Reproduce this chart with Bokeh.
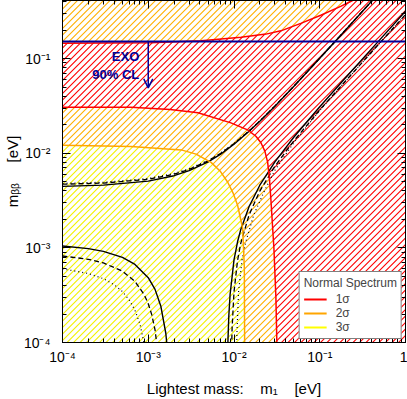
import base64
from bokeh.plotting import figure
from bokeh.models import (LogAxis, LogTicker, CustomJSTickFormatter, Range1d, Legend,
                          LegendItem, Arrow, OpenHead, Label, ColumnDataSource, ImageURLTexture)
from bokeh.embed import file_html
from bokeh.resources import INLINE

# ---------------- axis limits ----------------
X_MIN, X_MAX = 1e-4, 1.0
Y_MIN, Y_MAX = 1e-4, 0.41

# ---------------- EXO limit ----------------
EXO_LIMIT = 0.151
EXO_ARROW_X = 1e-3
EXO_ARROW_END = 0.049

# ---------------- best-fit m_bb envelopes ----------------
MAX_X = [1e-4, 3e-4, 1e-3, 2e-3, 3e-3, 5e-3, 7e-3, 0.01, 0.015, 0.02, 0.03, 0.05, 0.1, 0.2, 0.5, 1.0]
SOLID_MAX_Y = [0.00446, 0.00460, 0.00507, 0.00578, 0.00653, 0.00811, 0.00978, 0.01242, 0.01701,
               0.02173, 0.03138, 0.05099, 0.1006, 0.2005, 0.5006, 1.0003]
DASHED_MAX_Y = [0.00470, 0.00483, 0.00530, 0.00600, 0.00673, 0.00829, 0.00995, 0.01257, 0.01714,
                0.02184, 0.03145, 0.05101, 0.1006, 0.2005, 0.5006, 1.0003]
DOTTED_MAX_Y = [0.00480, 0.00493, 0.00540, 0.00611, 0.00684, 0.00840, 0.01006, 0.01268, 0.01724,
                0.02194, 0.03153, 0.05107, 0.1007, 0.2005, 0.5006, 1.0003]

SOLID_MINL_X = [1e-4, 2e-4, 3e-4, 5e-4, 7e-4, 1e-3, 1.2e-3, 1.4e-3, 1.6e-3, 1.65e-3, 1.7e-3, 1.8e-3]
SOLID_MINL_Y = [0.001046, 0.000982, 0.000918, 0.000793, 0.000668, 0.000484, 0.000364, 0.000243,
                0.000126, 0.000096, 0.000067, 0.0000089]
DASHED_MINL_X = [1e-4, 2e-4, 3e-4, 5e-4, 7e-4, 9e-4, 1e-3, 1.1e-3, 1.2e-3, 1.3e-3, 1.4e-3]
DASHED_MINL_Y = [0.00082, 0.000757, 0.000693, 0.000567, 0.000442, 0.000319, 0.000257, 0.000196,
                 0.000136, 0.000076, 0.000016]
DOTTED_MINL_X = [1e-4, 2e-4, 3e-4, 4e-4, 5e-4, 6e-4, 7e-4, 8e-4, 9e-4, 1e-3]
DOTTED_MINL_Y = [0.00060, 0.000536, 0.000472, 0.000408, 0.000345, 0.000282, 0.000219, 0.000157,
                 0.000095, 0.000033]

SOLID_MINR_X = [0.0083, 0.0085, 0.0087, 0.009, 0.01, 0.011, 0.012, 0.015, 0.02, 0.03, 0.05, 0.1, 0.2, 0.5, 1.0]
SOLID_MINR_Y = [0.000014, 0.000104, 0.000191, 0.00032, 0.000745, 0.001159, 0.001563, 0.002734,
                0.004587, 0.008105, 0.014815, 0.030983, 0.062732, 0.157395, 0.314946]
DASHED_MINR_X = [0.0093, 0.0095, 0.01, 0.011, 0.012, 0.015, 0.02, 0.03, 0.05, 0.1, 0.2, 0.5, 1.0]
DASHED_MINR_Y = [0.00006, 0.000141, 0.000342, 0.000736, 0.001121, 0.00223, 0.003981, 0.007282,
                 0.013541, 0.028543, 0.057915, 0.145393, 0.290962]
DOTTED_MINR_X = [0.0106, 0.0108, 0.0113, 0.0124, 0.0136, 0.017, 0.0226, 0.03, 0.05, 0.1, 0.2, 0.5, 1.0]
DOTTED_MINR_Y = [0.00003, 0.00012, 0.00034, 0.00074, 0.00112, 0.00223, 0.00398, 0.0066, 0.0130,
                 0.0282, 0.0577, 0.1451, 0.2906]

# ---------------- confidence contours ----------------
L1_X = [1e-4, 6.3e-4, 0.0018, 0.0038, 0.0092, 0.0144, 0.0180, 0.0206, 0.0229, 0.0247, 0.0259,
        0.0269, 0.0292, 0.0308, 0.0316, 0.0318]
L1_Y = [0.0306, 0.0305, 0.0289, 0.0267, 0.0209, 0.0176, 0.0151, 0.0129, 0.0105, 0.0080, 0.00535,
        0.0033, 0.00099, 0.0003, 0.0001, 0.00005]
U1_X = [1e-4, 0.00108, 0.00413, 0.01205, 0.0236, 0.0352, 0.0601, 0.1028, 0.1754, 0.229, 0.343]
U1_Y = [0.145, 0.147, 0.154, 0.168, 0.181, 0.196, 0.235, 0.286, 0.355, 0.40, 0.485]
L2_X = [1e-4, 6.3e-4, 0.00242, 0.00361, 0.0054, 0.00687, 0.00845, 0.00973, 0.01103, 0.01262,
        0.0132, 0.0133, 0.01335]
L2_Y = [0.0121, 0.01175, 0.01083, 0.00977, 0.0080, 0.00649, 0.00493, 0.00381, 0.0028, 0.0016,
        0.00061, 0.0001, 0.00005]

LEGEND_TITLE = "Normal Spectrum"
LEGEND_LABELS = ["1σ", "2σ", "3σ"]

RED = "#ff0000"
ORANGE = "#ffa500"
ORANGE_HATCH = "#ffb000"
YELLOW = "#ffff00"
YELLOW_HATCH = "#f2f200"
BLUE = "#000099"
FONT = "Liberation Sans"

p = figure(width=407, height=399, x_axis_type="log", y_axis_type="log",
           x_range=Range1d(X_MIN, X_MAX), y_range=Range1d(Y_MIN, Y_MAX),
           output_backend="svg", toolbar_location=None,
           min_border_left=61, min_border_right=2, min_border_top=0, min_border_bottom=54)
p.grid.visible = False
p.outline_line_color = "black"
p.outline_line_width = 1
p.background_fill_color = "white"
p.border_fill_color = "white"

sup = CustomJSTickFormatter(code="""
const e = Math.round(Math.log10(tick));
if (e === 0) { return "1"; }
const m = {"-":"\u207b","0":"\u2070","1":"\u00b9","2":"\u00b2","3":"\u00b3","4":"\u2074",
           "5":"\u2075","6":"\u2076","7":"\u2077","8":"\u2078","9":"\u2079"};
return "10" + String(e).split("").map(c => m[c]).join("");
""")
blank = CustomJSTickFormatter(code="return '';")


def style_axis(ax):
    ax.major_tick_in = 8
    ax.major_tick_out = 0
    ax.minor_tick_in = 4
    ax.minor_tick_out = 0
    ax.axis_line_color = "black"
    ax.major_tick_line_color = "black"
    ax.minor_tick_line_color = "black"
    ax.major_label_text_font = FONT
    ax.major_label_text_font_size = "14px"
    ax.major_label_text_color = "black"
    ax.axis_label_text_font = FONT
    ax.axis_label_text_font_style = "normal"
    ax.axis_label_text_font_size = "15px"
    ax.axis_label_text_color = "black"


xa = p.xaxis[0]
ya = p.yaxis[0]
for ax in (xa, ya):
    style_axis(ax)
    ax.ticker = LogTicker(num_minor_ticks=10)
    ax.formatter = sup
xa.major_label_standoff = 6
xa.axis_label = "Lightest mass:\u00a0\u00a0\u00a0\u00a0m\u2081\u00a0\u00a0\u00a0\u00a0[eV]"
xa.axis_label_standoff = 12
ya.major_label_standoff = 12
ya.axis_label = "m\u1d66\u1d66\u00a0\u00a0\u00a0\u00a0\u00a0[eV]"
ya.axis_label_standoff = 0

for loc in ("above", "right"):
    ax = LogAxis(ticker=LogTicker(num_minor_ticks=10), formatter=blank)
    style_axis(ax)
    ax.major_label_standoff = 0
    ax.major_label_text_font_size = "1px"
    p.add_layout(ax, loc)


# ---------------- 45-degree hatch textures (13 px tile, two lines per tile) ----------------
def diag_texture(color):
    svg = ('<svg xmlns="http://www.w3.org/2000/svg" width="13" height="13">'
           '<rect width="13" height="13" fill="white"/>'
           '<path d="M-2,2 L2,-2 M-2,8.5 L8.5,-2 M-2,15 L15,-2 M4.5,15 L15,4.5 M11,15 L15,11" '
           f'stroke="{color}" stroke-width="1.1" fill="none"/></svg>')
    url = "data:image/svg+xml;base64," + base64.b64encode(svg.encode()).decode()
    return ImageURLTexture(url=url)


def hatched(xs, ys, color):
    p.patch(xs, ys, fill_color="white", line_color=None, hatch_pattern="diag",
            hatch_extra={"diag": diag_texture(color)}, hatch_scale=13)


hatched([X_MIN, X_MAX, X_MAX, X_MIN], [Y_MIN, Y_MIN, Y_MAX, Y_MAX], ORANGE_HATCH)
hatched(U1_X + [X_MAX, X_MAX, X_MIN], U1_Y + [Y_MAX, Y_MIN, Y_MIN], RED)
hatched(L1_X + [X_MIN], L1_Y + [L1_Y[-1]], ORANGE_HATCH)
hatched(L2_X + [X_MIN], L2_Y + [L2_Y[-1]], YELLOW_HATCH)

# ---------------- best-fit envelopes ----------------
bw = 1.4
p.line(MAX_X, DOTTED_MAX_Y, line_color="black", line_width=1.2, line_dash="1 3")
p.line(MAX_X, DASHED_MAX_Y, line_color="black", line_width=1.3, line_dash="5 3")
p.line(MAX_X, SOLID_MAX_Y, line_color="black", line_width=bw)
p.line(DOTTED_MINL_X, DOTTED_MINL_Y, line_color="black", line_width=1.2, line_dash="1 3")
p.line(DASHED_MINL_X, DASHED_MINL_Y, line_color="black", line_width=1.3, line_dash="5 3")
p.line(SOLID_MINL_X, SOLID_MINL_Y, line_color="black", line_width=bw)
p.line(DOTTED_MINR_X, DOTTED_MINR_Y, line_color="black", line_width=1.2, line_dash="1 3")
p.line(DASHED_MINR_X, DASHED_MINR_Y, line_color="black", line_width=1.3, line_dash="5 3")
p.line(SOLID_MINR_X, SOLID_MINR_Y, line_color="black", line_width=bw)

# ---------------- contour lines ----------------
p.line(L2_X, L2_Y, line_color=ORANGE, line_width=1.5)
p.line(L1_X, L1_Y, line_color=RED, line_width=1.5)
p.line(U1_X, U1_Y, line_color=RED, line_width=1.5)

# ---------------- EXO limit ----------------
p.line([X_MIN, X_MAX], [EXO_LIMIT, EXO_LIMIT], line_color=BLUE, line_width=2)
p.add_layout(Arrow(end=OpenHead(size=9, line_color=BLUE, line_width=1.5),
                   x_start=EXO_ARROW_X, y_start=EXO_LIMIT, x_end=EXO_ARROW_X, y_end=EXO_ARROW_END,
                   line_color=BLUE, line_width=1.5))
for txt, yy in (("EXO", 0.106), ("90% CL", 0.067)):
    p.add_layout(Label(x=EXO_ARROW_X, y=yy, x_offset=-9, text=txt, text_align="right",
                       text_baseline="middle", text_font=FONT, text_font_style="bold",
                       text_font_size="13px", text_color=BLUE))

# ---------------- legend ----------------
nan = float("nan")
leg_r = [p.line("x", "y", source=ColumnDataSource(data=dict(x=[nan], y=[nan])),
                line_color=c, line_width=2.2) for c in (RED, ORANGE, YELLOW)]
legend = Legend(items=[LegendItem(label=l, renderers=[r], index=0)
                       for l, r in zip(LEGEND_LABELS, leg_r)],
                location="bottom_right", title=LEGEND_TITLE)
legend.title_text_font = FONT
legend.title_text_font_style = "normal"
legend.title_text_font_size = "12px"
legend.title_standoff = 2
legend.label_text_font = FONT
legend.label_text_font_size = "12px"
legend.border_line_color = "black"
legend.border_line_width = 1
legend.background_fill_alpha = 1
legend.glyph_width = 23
legend.glyph_height = 12
legend.label_height = 12
legend.spacing = 0
legend.padding = 4
legend.margin = 3
legend.label_standoff = 9
p.add_layout(legend)

open("out.html", "w", encoding="utf-8").write(file_html(p, INLINE))
